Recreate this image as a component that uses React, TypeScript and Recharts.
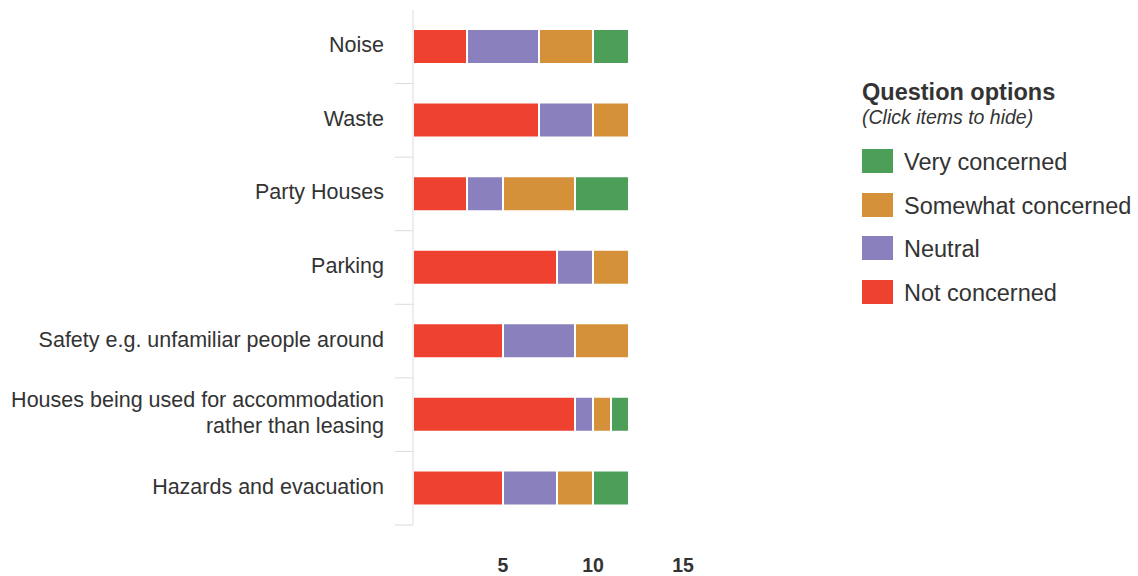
import { BarChart, Bar, XAxis, YAxis, Legend } from 'recharts';

const categories = [
  'Noise',
  'Waste',
  'Party Houses',
  'Parking',
  'Safety e.g. unfamiliar people around',
  'Houses being used for accommodation rather than leasing',
  'Hazards and evacuation',
];
const notConcerned = [3, 7, 3, 8, 5, 9, 5];
const neutral = [4, 3, 2, 2, 4, 1, 3];
const somewhatConcerned = [3, 2, 4, 2, 3, 1, 2];
const veryConcerned = [2, 0, 3, 0, 0, 1, 2];
const xTicks = [5, 10, 15];

const series = [
  { key: 'very', label: 'Very concerned', color: '#4d9e58' },
  { key: 'somewhat', label: 'Somewhat concerned', color: '#d4913a' },
  { key: 'neutral', label: 'Neutral', color: '#8a80bd' },
  { key: 'not', label: 'Not concerned', color: '#ee4130' },
];

const data = categories.map((name, i) => ({
  name,
  not: notConcerned[i],
  neutral: neutral[i],
  somewhat: somewhatConcerned[i],
  very: veryConcerned[i],
}));

const W = 1138;
const H = 576;
const MARGIN = { top: 10, right: 455, bottom: 1, left: 0 };
const Y_W = 413;
const X_H = 50;
const PLOT_LEFT = MARGIN.left + Y_W;
const PLOT_BOTTOM = H - MARGIN.bottom - X_H;
const BAND = (PLOT_BOTTOM - MARGIN.top) / categories.length;
const FONT = '"Liberation Sans", Arial, Helvetica, sans-serif';

// greedy wrap so the long label breaks onto two lines
function wrap(label: string, max = 36) {
  const lines: string[] = [];
  let cur = '';
  for (const w of label.split(' ')) {
    const next = cur ? cur + ' ' + w : w;
    if (next.length > max && cur) {
      lines.push(cur);
      cur = w;
    } else cur = next;
  }
  if (cur) lines.push(cur);
  return lines;
}

function CategoryTick(props: any) {
  const { y, payload } = props;
  const lines = wrap(String(payload.value));
  const lh = 26;
  const first = y + 5.5 - ((lines.length - 1) * lh) / 2;
  return (
    <g>
      <line x1={PLOT_LEFT - 18} x2={PLOT_LEFT} y1={y + BAND / 2} y2={y + BAND / 2} stroke="#dcdcdc" />
      <text x={PLOT_LEFT - 29} y={first} textAnchor="end" fill="#333" fontSize={21.5} fontFamily={FONT}>
        {lines.map((l, i) => (
          <tspan key={i} x={PLOT_LEFT - 29} y={first + i * lh}>
            {l}
          </tspan>
        ))}
      </text>
    </g>
  );
}

function ValueTick(props: any) {
  const { x, payload } = props;
  return (
    <text x={x} y={PLOT_BOTTOM + 47} textAnchor="middle" fill="#333" fontSize={19.5} fontWeight="bold" fontFamily={FONT}>
      {payload.value}
    </text>
  );
}

function LegendBox() {
  const rowTops = [78, 121.5, 165, 208.5];
  return (
    <div style={{ position: 'relative', width: 276, height: 240, fontFamily: FONT, color: '#333' }}>
      <div style={{ position: 'absolute', left: 0, top: 8, fontSize: 23.5, lineHeight: '28px', fontWeight: 'bold', whiteSpace: 'nowrap' }}>
        Question options
      </div>
      <div style={{ position: 'absolute', left: 0, top: 34.5, fontSize: 19.5, lineHeight: '24px', fontStyle: 'italic', whiteSpace: 'nowrap' }}>
        (Click items to hide)
      </div>
      {series.map((s, i) => (
        <div key={s.key}>
          <div style={{ position: 'absolute', left: 0, top: rowTops[i] + 1, width: 31, height: 24, background: s.color }} />
          <div style={{ position: 'absolute', left: 42, top: rowTops[i], fontSize: 23.5, lineHeight: '28px', whiteSpace: 'nowrap' }}>
            {s.label}
          </div>
        </div>
      ))}
    </div>
  );
}

export default function App() {
  return (
    <div style={{ position: 'absolute', left: 0, top: 0, width: W, height: H, background: '#fff' }}>
      <BarChart width={W} height={H} data={data} layout="vertical" margin={MARGIN} barSize={35}>
        <XAxis
          type="number"
          domain={[0, 15]}
          ticks={xTicks}
          axisLine={false}
          tickLine={false}
          height={X_H}
          tick={<ValueTick />}
        />
        <YAxis
          type="category"
          dataKey="name"
          width={Y_W}
          axisLine={{ stroke: '#dcdcdc' }}
          tickLine={false}
          tick={<CategoryTick />}
          interval={0}
        />
        <Legend
          layout="horizontal"
          verticalAlign="middle"
          align="center"
          wrapperStyle={{ left: 862, top: 70, width: 276 }}
          content={() => <LegendBox />}
        />
        <Bar dataKey="not" stackId="a" fill="#ee4130" stroke="#fff" strokeWidth={2} isAnimationActive={false} />
        <Bar dataKey="neutral" stackId="a" fill="#8a80bd" stroke="#fff" strokeWidth={2} isAnimationActive={false} />
        <Bar dataKey="somewhat" stackId="a" fill="#d4913a" stroke="#fff" strokeWidth={2} isAnimationActive={false} />
        <Bar dataKey="very" stackId="a" fill="#4d9e58" stroke="#fff" strokeWidth={2} isAnimationActive={false} />
      </BarChart>
    </div>
  );
}
